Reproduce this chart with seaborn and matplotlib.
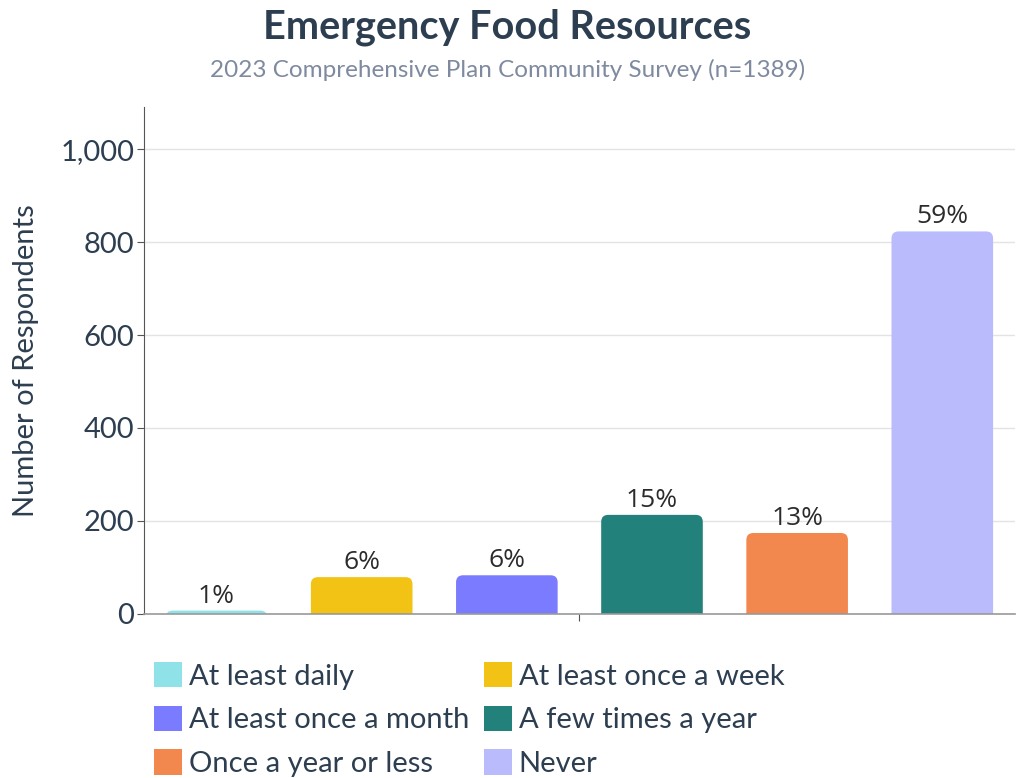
import matplotlib
matplotlib.use("Agg")
import matplotlib.pyplot as plt
import seaborn as sns
import pandas as pd
from matplotlib.patches import FancyBboxPatch, Patch

categories = ["At least daily", "At least once a week", "At least once a month",
              "A few times a year", "Once a year or less", "Never"]
counts = [7, 79, 83, 213, 174, 823]
pct_labels = ["1%", "6%", "6%", "15%", "13%", "59%"]
colors = ["#8FE3E8", "#F2C314", "#7B7BFF", "#22817A", "#F2884D", "#BABBFD"]
yticks = [0, 200, 400, 600, 800, 1000]

sns.set_theme(style="white")
plt.rcParams["font.family"] = ["Lato", "DejaVu Sans"]

df = pd.DataFrame({"cat": categories, "n": counts})

fig = plt.figure(figsize=(10.21, 7.78), dpi=100)
ax = fig.add_axes([0.141, 0.211, 0.853, 0.651])

sns.barplot(data=df, x="cat", y="n", hue="cat", palette=colors, order=categories,
            hue_order=categories, width=0.7, legend=False, ax=ax, saturation=1)

ax.set_ylim(0, 1090)
ax.set_xlim(-0.5, 5.5)
ax.set_yticks(yticks)
ax.set_yticklabels([f"{v:,}" for v in yticks])
ax.tick_params(axis="y", labelsize=21, colors="#2C3E50", length=5, width=0.8,
               color="#555555", pad=2, left=True)
ax.set_xticks([2.5])
ax.set_xticklabels([""])
ax.tick_params(axis="x", length=5, width=0.8, color="#555555", bottom=True)
ax.set_xlabel("")
ax.set_ylabel("Number of Respondents", fontsize=21, color="#2C3E50")
ax.yaxis.set_label_coords(-0.121, 0.5)
ax.yaxis.grid(True, color="#E3E3E3", linewidth=1)
ax.set_axisbelow(True)
for s in ["top", "right"]:
    ax.spines[s].set_visible(False)
ax.spines["left"].set_color("#555555")
ax.spines["bottom"].set_color("#999999")
ax.spines["left"].set_linewidth(0.8)
ax.spines["bottom"].set_linewidth(1.2)

# rounded tops
fig.canvas.draw()
bbox = ax.get_window_extent()
x_per_px = 6.0 / bbox.width
y_per_px = 1090.0 / bbox.height
r_px = 7
for p in list(ax.patches):
    x0, w, h = p.get_x(), p.get_width(), p.get_height()
    fc = p.get_facecolor()
    p.set_visible(False)
    r = r_px * x_per_px
    ext = r_px * y_per_px
    fb = FancyBboxPatch((x0, -ext), w, h + ext,
                        boxstyle=f"round,pad=0,rounding_size={r}",
                        mutation_aspect=y_per_px / x_per_px,
                        facecolor=fc, edgecolor="none", zorder=2, clip_on=True)
    ax.add_patch(fb)

for i, (h, lab) in enumerate(zip(counts, pct_labels)):
    ax.annotate(lab, (i, h), xytext=(0, 1.5), textcoords="offset points",
                ha="center", va="bottom", fontsize=19, color="#2B2B2B",
                family=["Open Sans", "DejaVu Sans"])

fig.text(0.497, 0.965, "Emergency Food Resources", ha="center", va="center",
         fontsize=28.5, fontweight="bold", color="#2C3E50")
fig.text(0.497, 0.91, "2023 Comprehensive Plan Community Survey (n=1389)",
         ha="center", va="center", fontsize=17.5, color="#7F8AA0")

order = [0, 2, 4, 1, 3, 5]
handles = [Patch(facecolor=colors[i], edgecolor="none") for i in order]
labels = [categories[i] for i in order]
leg = fig.legend(handles, labels, loc="upper left", bbox_to_anchor=(0.151, 0.149),
                 ncol=2, frameon=False, fontsize=21, handlelength=0.95, handleheight=0.95,
                 handletextpad=0.24, columnspacing=0.5, labelspacing=0.55,
                 borderaxespad=0, borderpad=0)
for t in leg.get_texts():
    t.set_color("#2C3E50")

fig.savefig("out.png", dpi=100)
